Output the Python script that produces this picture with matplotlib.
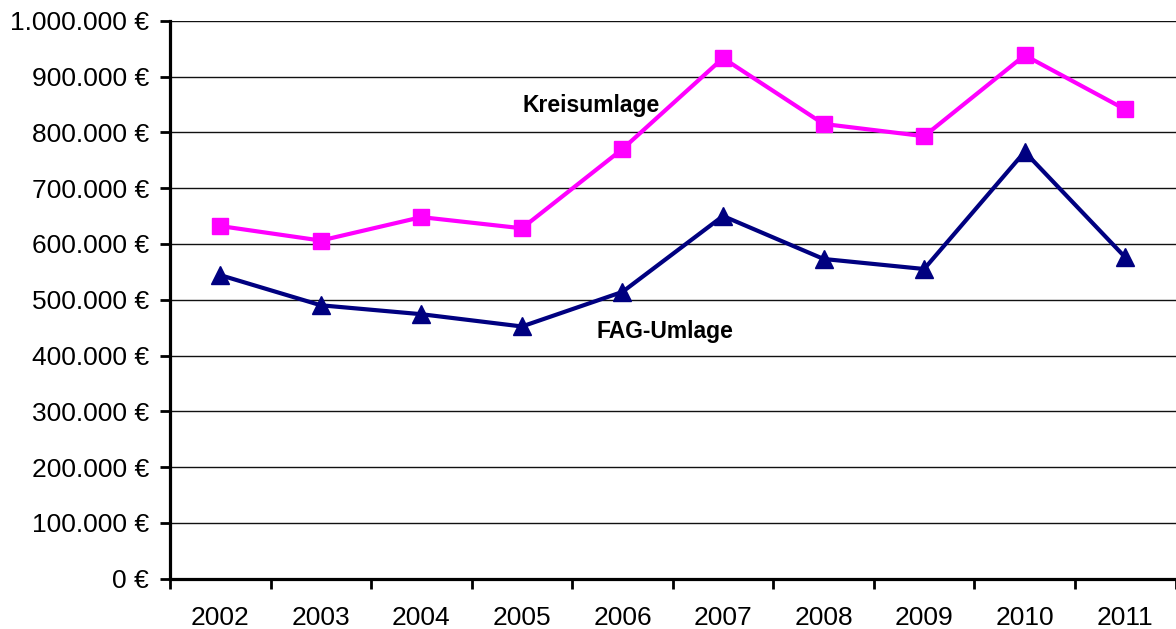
import numpy as np
import matplotlib
matplotlib.use("Agg")
import matplotlib.pyplot as plt
from matplotlib.ticker import FuncFormatter, MultipleLocator

years = ["2002", "2003", "2004", "2005", "2006", "2007", "2008", "2009", "2010", "2011"]
kreisumlage = [632000, 606000, 648000, 628000, 770000, 933000, 815000, 793000, 938000, 841000]
fag_umlage = [544000, 490000, 474000, 452000, 514000, 650000, 573000, 555000, 765000, 576000]

plt.rcParams["font.family"] = ["Liberation Sans", "DejaVu Sans"]

fig = plt.figure(figsize=(11.76, 6.29), dpi=100)
ax = fig.add_axes([170 / 1176, 50.3 / 629, 1005.5 / 1176, 558 / 629])

x = np.arange(len(years))
ax.plot(x, kreisumlage, "-s", color="#FF00FF", lw=3, ms=12, zorder=3, clip_on=False)
ax.plot(x, fag_umlage, "-^", color="#000080", lw=3, ms=13, zorder=3, clip_on=False)

ax.set_xlim(-0.5, len(years) - 0.5)
ax.set_ylim(0, 1000000)
ax.yaxis.set_major_locator(MultipleLocator(100000))
ax.yaxis.set_major_formatter(FuncFormatter(lambda v, p: f"{int(v):,} €".replace(",", ".")))
ax.grid(axis="y", color="#111111", lw=1)
ax.set_axisbelow(True)

# categories are centered between tick marks
ax.set_xticks(np.arange(-0.5, len(years)))
ax.set_xticklabels([])
ax.set_xticks(x, minor=True)
ax.set_xticklabels(years, minor=True)
ax.tick_params(axis="x", which="major", direction="out", length=7, width=2)
ax.tick_params(axis="x", which="minor", length=0, pad=20, labelsize=19)
ax.tick_params(axis="y", direction="out", length=7, width=2, pad=8, labelsize=19)

for s in ("top", "right"):
    ax.spines[s].set_visible(False)
for s in ("left", "bottom"):
    ax.spines[s].set_linewidth(2.3)

ax.text(3.01, 836000, "Kreisumlage", fontsize=16.5, fontweight="bold", ha="left", va="baseline")
ax.text(3.74, 431000, "FAG-Umlage", fontsize=16.5, fontweight="bold", ha="left", va="baseline")

fig.savefig("out.png", dpi=100)
